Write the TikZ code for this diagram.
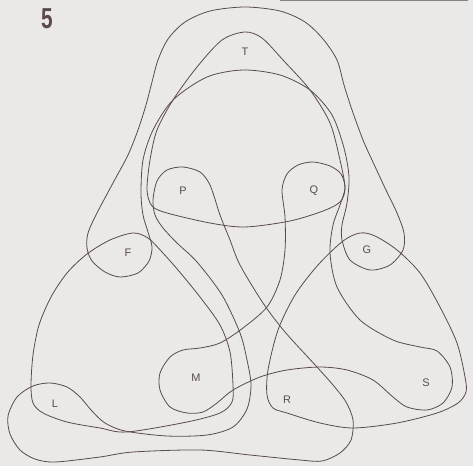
\documentclass[tikz,border=0pt]{standalone}
\usepackage{fontspec}
\setmainfont{Liberation Sans}
\definecolor{bg}{HTML}{EBE9E7}
\definecolor{ink}{HTML}{5A4A4D}
\begin{document}
\begin{tikzpicture}[x=1bp,y=-1bp,
  curve/.style={draw=ink,line width=0.8bp},
  lab/.style={text=ink,font=\fontsize{11}{12}\selectfont,inner sep=0pt}]
\fill[bg] (0,0) rectangle (473,466);
\useasboundingbox (0,0) rectangle (473,466);
\draw[ink!70,line width=1.1bp] (280,0.6) -- (468,0.6);
\node[text=ink,inner sep=0pt] (num) at (47,19) {\scalebox{0.72}[1]{\fontsize{29}{30}\selectfont\bfseries 5}};
% band with F and G bulbs
\draw[curve] plot[smooth cycle,tension=0.5] coordinates {
 (245,7) (210,11) (185,22) (168,39) (158,60) (152,82) (146,105) (138,130) (128,155) (113,183)
 (97,213) (88,233) (87,248) (92,261) (105,272) (120,277) (138,273) (149,261)
 (152,247) (148,232) (143,215) (141,193) (143,160) (153,130) (173,100) (207,77)
 (243,70) (280,75) (310,90) (332,115) (344,148) (349,177) (347,203) (342,225)
 (342,240) (350,260) (370,270) (390,265) (403,250) (404,233) (397,213) (385,188)
 (372,160) (363,140) (352,110) (344,85) (337,60) (323,39) (305,22) (280,11)};
% T cap
\draw[curve] plot[smooth cycle,tension=0.5] coordinates {
 (245,32) (262,38) (283,60) (310,90) (330,123) (340,160) (345,188) (340,202)
 (323,211) (290,221) (245,227) (210,223) (167,213) (152,206) (147,190) (150,160)
 (157,130) (173,100) (197,67) (222,40)};
% P - L shape
\draw[curve] plot[smooth cycle,tension=0.5] coordinates {
 (183,167) (200,172) (209,183) (214,196) (220,215) (230,240) (240,265) (263,303)
 (285,332) (317,367) (333,385) (346,402) (353,420) (351,440) (340,453) (322,461)
 (300,460) (250,455) (200,450) (133,452) (100,457) (55,462) (35,459) (20,450)
 (10,434) (8,416) (17,397) (33,386) (50,383) (67,387) (80,397) (92,411)
 (105,423) (125,431) (167,436) (207,435) (233,427) (247,409) (251,385) (247,360)
 (240,333) (222,295) (197,262) (177,243) (163,228) (155,215) (153,200) (157,181)
 (167,170)};
% Q - M - S shape
\draw[curve] plot[smooth cycle,tension=0.5] coordinates {
 (313,162) (330,166) (341,174) (345,188) (340,205) (333,225) (330,253) (337,287)
 (360,320) (393,340) (420,347) (437,351) (450,367) (452,387) (443,403) (427,410)
 (407,407) (393,397) (373,380) (347,370) (320,367) (287,370) (260,377) (233,390)
 (217,403) (203,412) (187,413) (170,407) (160,390) (160,373) (170,357) (183,350)
 (200,348) (220,343) (243,328) (267,307) (280,280) (285,250) (285,217) (282,190)
 (287,174) (298,165)};
% left triangle F - L - M
\draw[curve] plot[smooth cycle,tension=0.5] coordinates {
 (133,233) (148,238) (162,252) (178,270) (200,297) (220,325) (230,352) (233,385)
 (232,402) (220,413) (187,422) (127,432) (100,428) (67,422) (43,413) (33,403)
 (31,385) (33,355) (39,325) (51,297) (67,273) (87,254) (110,240)};
% right triangle G - R - S
\draw[curve] plot[smooth cycle,tension=0.5] coordinates {
 (360,233) (375,236) (397,250) (420,273) (440,307) (457,343) (465,377) (466,392)
 (458,403) (437,413) (397,423) (353,428) (320,423) (287,413) (273,408) (267,395)
 (268,370) (278,330) (295,295) (318,265) (343,241)};
% labels
\node[lab] (T) at (245,52) {T};
\node[lab] (P) at (183,191) {P};
\node[lab] (Q) at (314,191) {Q};
\node[lab] (F) at (128,253) {F};
\node[lab] (G) at (367,250) {G};
\node[lab] (M) at (196,378) {M};
\node[lab] (L) at (55,404) {L};
\node[lab] (R) at (287,400) {R};
\node[lab] (S) at (426,383) {S};
\end{tikzpicture}
\end{document}
